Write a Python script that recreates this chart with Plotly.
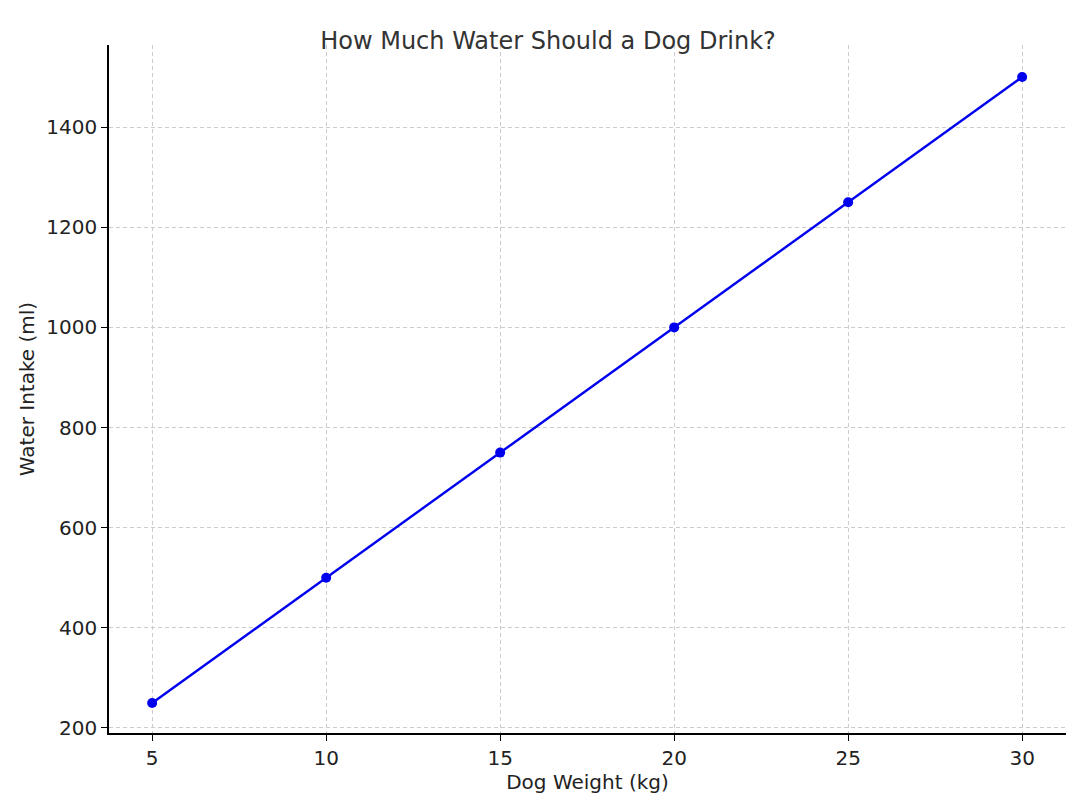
import plotly.graph_objects as go

# dog weight vs daily water intake
weights_kg = [5, 10, 15, 20, 25, 30]
water_ml = [250, 500, 750, 1000, 1250, 1500]

fig = go.Figure()
fig.add_trace(go.Scatter(
    x=weights_kg, y=water_ml, mode="lines+markers",
    line=dict(color="#0000ee", width=2.4),
    marker=dict(color="#0000ee", size=10),
))

fig.update_layout(
    width=1080, height=807,
    margin=dict(l=101, r=22, t=37, b=82),
    paper_bgcolor="white", plot_bgcolor="white",
    font=dict(family="DejaVu Sans", size=19, color="#222"),
    title=dict(text="How Much Water Should a Dog Drink?", x=0.5, xanchor="center",
               y=0.959, yanchor="middle", font=dict(size=24, color="#333")),
    showlegend=False,
)
grid = dict(showgrid=True, gridcolor="#cccccc", griddash="4px,3px", gridwidth=1,
            showline=True, linecolor="black", linewidth=1.5, ticks="outside",
            ticklen=6, tickcolor="black", zeroline=False,
            tickfont=dict(size=20))
fig.update_xaxes(range=[3.76, 31.26], tickvals=weights_kg,
                 title=dict(text="Dog Weight (kg)", standoff=6, font=dict(size=20)), **grid)
fig.update_yaxes(range=[190, 1564], tickvals=[200, 400, 600, 800, 1000, 1200, 1400],
                 title=dict(text="Water Intake (ml)", standoff=6, font=dict(size=20)), **grid)

fig.write_html("out.html")
